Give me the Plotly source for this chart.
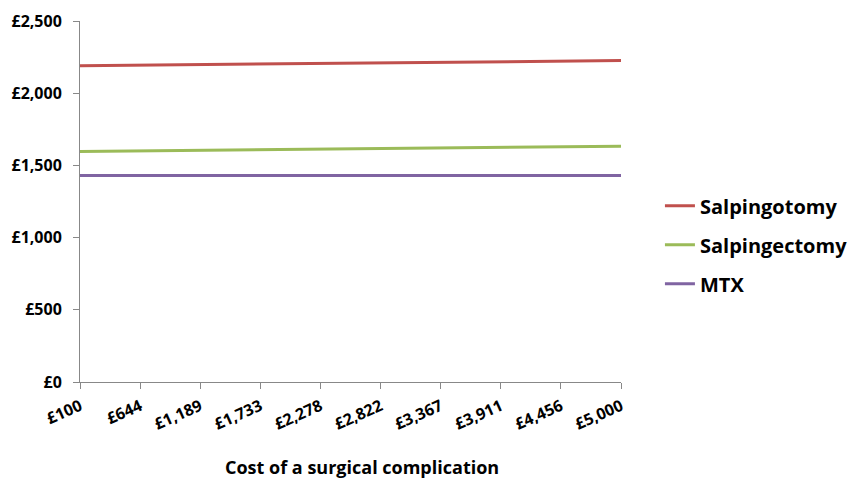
import plotly.graph_objects as go

categories = ["£100", "£644", "£1,189", "£1,733", "£2,278", "£2,822", "£3,367", "£3,911", "£4,456", "£5,000"]
salpingotomy = [2190, 2194, 2198, 2202, 2206, 2210, 2214, 2218, 2222, 2226]
salpingectomy = [1597, 1601, 1605, 1609, 1613, 1617, 1621, 1625, 1629, 1633]
mtx = [1430, 1430, 1430, 1430, 1430, 1430, 1430, 1430, 1430, 1430]
x_title = "Cost of a surgical complication"

series = [
    ("Salpingotomy", salpingotomy, "#C0504D"),
    ("Salpingectomy", salpingectomy, "#9BBB59"),
    ("MTX", mtx, "#8064A2"),
]

fig = go.Figure()
for i, (name, vals, color) in enumerate(series):
    fig.add_trace(go.Scatter(
        x=categories, y=vals, name=name, mode="lines",
        line=dict(color=color, width=3), legendgroup=str(i),
    ))

font_family = "Open Sans, Liberation Sans, Arial"
fig.add_annotation(
    text=x_title, xref="paper", yref="paper", x=0.522, y=-0.235,
    xanchor="center", yanchor="middle", showarrow=False,
    font=dict(size=18, weight="bold", family=font_family),
)
fig.update_layout(
    width=856, height=484,
    margin=dict(l=72, r=242, t=13, b=110),
    plot_bgcolor="white", paper_bgcolor="white",
    font=dict(family=font_family, color="#000000"),
    showlegend=True,
    legend=dict(
        x=1.07, y=0.38, xanchor="left", yanchor="middle",
        font=dict(size=20, family=font_family, weight="bold"),
        tracegroupgap=10, itemwidth=30,
    ),
    xaxis=dict(
        type="category", range=[0, 9], automargin=False,
        showline=True, linecolor="#888888", linewidth=1,
        ticks="outside", ticklen=6, tickcolor="#888888",
        showgrid=False, tickangle=-24, ticklabelstandoff=2,
        tickfont=dict(size=16, weight="bold"),
    ),
    yaxis=dict(
        range=[0, 2500], automargin=False,
        tickvals=[0, 500, 1000, 1500, 2000, 2500],
        ticktext=["£0", "£500", "£1,000", "£1,500", "£2,000", "£2,500"],
        showline=True, linecolor="#888888", linewidth=1,
        ticks="outside", ticklen=6, tickcolor="#888888",
        showgrid=False, zeroline=False, ticklabelstandoff=8,
        tickfont=dict(size=16, weight="bold"),
    ),
)

fig.write_html("out.html")
